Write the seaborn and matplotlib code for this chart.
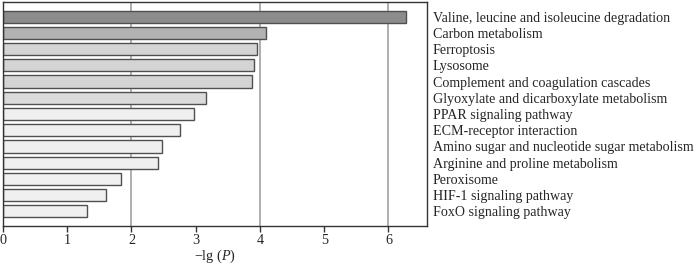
import matplotlib
matplotlib.use('Agg')
import matplotlib.pyplot as plt
import seaborn as sns
import pandas as pd

pathways = ['Valine, leucine and isoleucine degradation', 'Carbon metabolism', 'Ferroptosis',
            'Lysosome', 'Complement and coagulation cascades',
            'Glyoxylate and dicarboxylate metabolism', 'PPAR signaling pathway',
            'ECM-receptor interaction', 'Amino sugar and nucleotide sugar metabolism',
            'Arginine and proline metabolism', 'Peroxisome', 'HIF-1 signaling pathway',
            'FoxO signaling pathway']
neg_lg_p = [6.28, 4.09, 3.96, 3.91, 3.87, 3.16, 2.98, 2.76, 2.48, 2.42, 1.83, 1.60, 1.31]
bar_colors = ['#8c8c8c', '#b2b2b2', '#d4d4d4', '#d4d4d4', '#d4d4d4', '#dadada',
              '#f0f0f0', '#f0f0f0', '#f0f0f0', '#f0f0f0', '#f0f0f0', '#f0f0f0', '#f0f0f0']

df = pd.DataFrame({'pathway': pathways, 'value': neg_lg_p})

sns.set_style('white')
plt.rcParams['font.family'] = ['Liberation Serif', 'DejaVu Serif']
plt.rcParams['mathtext.fontset'] = 'custom'
plt.rcParams['mathtext.rm'] = 'Liberation Serif'
plt.rcParams['mathtext.it'] = 'Liberation Serif:italic'

fig = plt.figure(figsize=(7, 2.65), dpi=100)
ax = fig.add_axes([3 / 700, 1 - 226 / 265, 424 / 700, 224 / 265])

# grid behind bars
for gx in [2, 4, 6]:
    ax.axvline(gx, color='#999999', lw=1.1, zorder=0)

sns.barplot(data=df, x='value', y='pathway', hue='pathway', palette=bar_colors,
            legend=False, orient='h', width=0.75, edgecolor='#505050', linewidth=1.0,
            ax=ax, zorder=2)

ax.set_xlim(0, 6.6)
ax.set_ylim(12.9, -0.9)
ax.set_xticks(range(7))
ax.tick_params(axis='x', direction='out', length=4, width=1, color='#333333',
               labelsize=10.2, pad=2, bottom=True)
ax.yaxis.tick_right()
ax.tick_params(axis='y', length=0, labelsize=10.1, pad=4)
ax.set_ylabel('')
ax.set_xlabel('\u2212lg ($\\it{P}$)', fontsize=10.2, labelpad=0)

for s in ax.spines.values():
    s.set_visible(True)
    s.set_color('#333333')
    s.set_linewidth(1)

fig.savefig('out.png', dpi=100)
